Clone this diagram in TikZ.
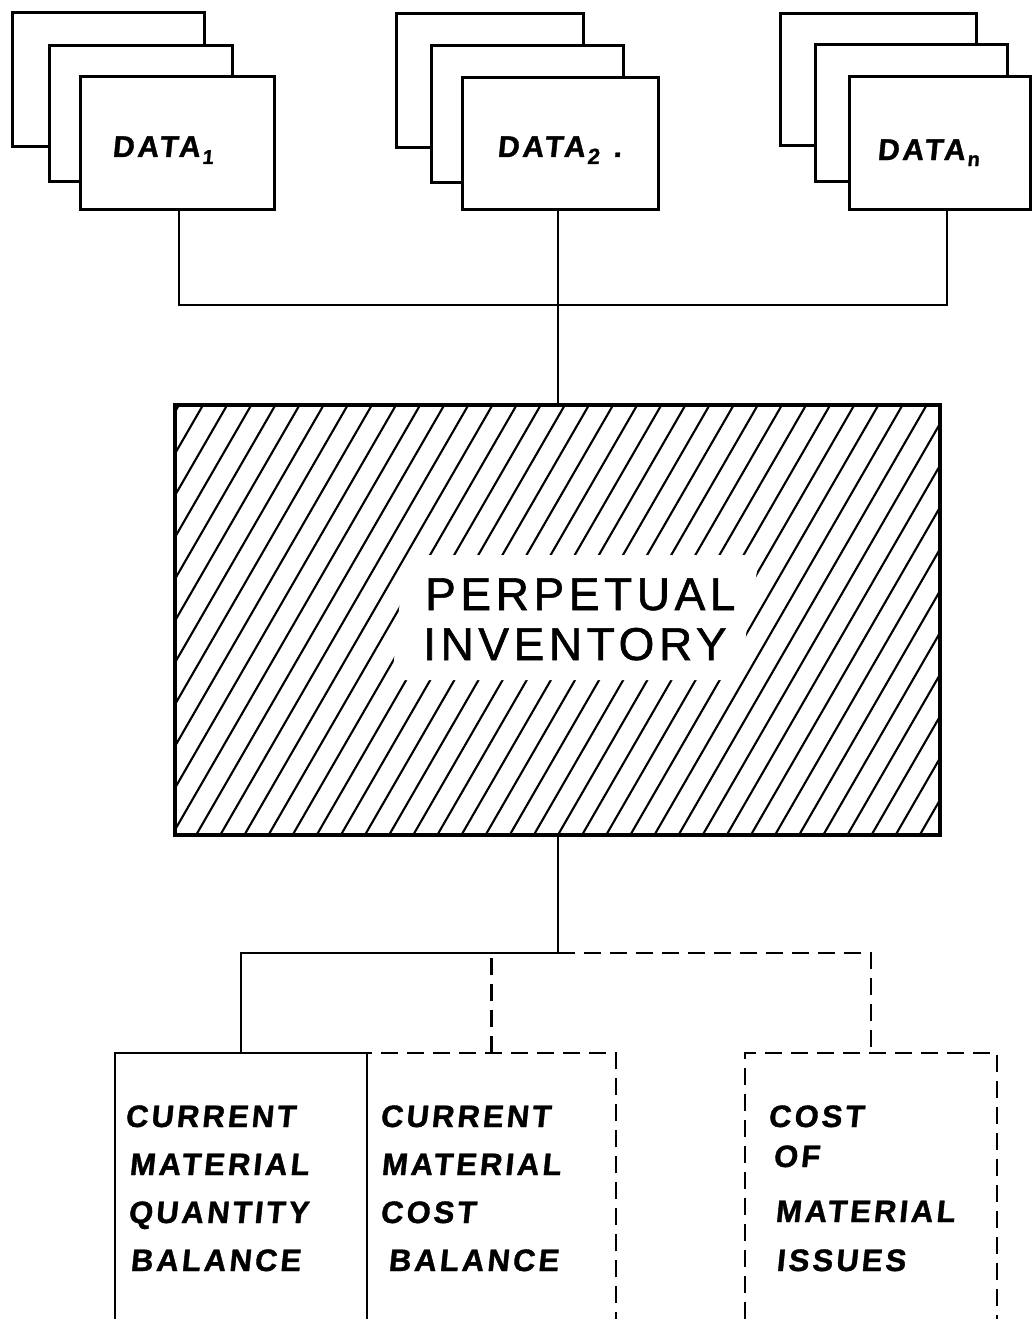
\documentclass[tikz,border=0pt]{standalone}
\usepackage{fontspec}
\newfontfamily\lettr[LetterSpace=10,FakeSlant=0.1,FakeBold=1.2]{Liberation Sans Bold}
\newfontfamily\lettrn[LetterSpace=10,FakeBold=1.2]{Liberation Sans}
\begin{document}
\begin{tikzpicture}[x=1pt,y=-1pt,
  card/.style={draw,line width=3pt,fill=white,rectangle,inner sep=0pt,outer sep=0pt},
  wire/.style={line width=2pt},
  dwire/.style={line width=2.4pt,dash pattern=on 17pt off 9pt},
  hatchline/.style={line width=2.1pt},
  outbox/.style={rectangle,inner sep=0pt,outer sep=0pt,line width=2.6pt,minimum height=287pt},
  datalbl/.style={anchor=base west,inner sep=0pt,font=\lettr\fontsize{30}{30}\selectfont},
  boxlbl/.style={anchor=base west,inner sep=0pt,font=\lettr\fontsize{31}{31}\selectfont},
  biglbl/.style={anchor=base west,inner sep=0pt,font=\lettrn\fontsize{46}{46}\selectfont}]
\useasboundingbox (0,0) rectangle (1032,1319);
\clip (0,0) rectangle (1032,1319);
\fill[white] (0,0) rectangle (1032,1319);

% data stacks
\node[card,minimum width=192pt,minimum height=133pt] (d1b) at (108,79.5) {};
\node[card,minimum width=183pt,minimum height=135pt] (d1m) at (140.5,113.5) {};
\node[card,minimum width=194pt,minimum height=132pt] (d1) at (177,143) {};
\node[card,minimum width=187pt,minimum height=133pt] (d2b) at (489.5,80.5) {};
\node[card,minimum width=192pt,minimum height=136pt] (d2m) at (527,114) {};
\node[card,minimum width=196pt,minimum height=131pt] (d2) at (560,143.5) {};
\node[card,minimum width=196pt,minimum height=131pt] (dnb) at (878,79.5) {};
\node[card,minimum width=192pt,minimum height=136pt] (dnm) at (911,113) {};
\node[card,minimum width=181pt,minimum height=132pt] (dn) at (939.5,143) {};

\node[datalbl] (t1) at (112,157) {DATA\hspace{2pt}\raisebox{-7pt}{\fontsize{20}{20}\selectfont 1}};
\node[datalbl] (t2) at (497,157) {DATA\hspace{2pt}\raisebox{-7pt}{\fontsize{22}{22}\selectfont 2}\hspace{14pt}.};
\node[datalbl] (tn) at (877,160) {DATA\hspace{2pt}\raisebox{-6pt}{\fontsize{20}{20}\selectfont n}};

% perpetual inventory box
\node[rectangle,inner sep=0pt,outer sep=0pt,minimum width=765pt,minimum height=430pt] (P) at (557.5,620) {};
\begin{scope}
  \clip (P.north west) rectangle (P.south east);
  \foreach \k in {-8,...,34} {
    \draw[hatchline] ({748-24.12*\k},840) -- ++(251,-435);
  }
\end{scope}
\fill[white] (425,555) -- (760,555) -- (748,620) -- (740,680) -- (392,680) -- (400,600) -- cycle;
\draw[line width=4pt] (P.north west) rectangle (P.south east);
\node[biglbl] (pt1) at (425,610) {PERPETUAL};
\node[biglbl] (pt2) at (423,660) {INVENTORY};

% top connectors
\coordinate (bus) at (557.5,305);
\draw[wire] ([xshift=2pt]d1.south) |- (bus) -| ([xshift=7.5pt]dn.south);
\draw[wire] (P.north) -- (P.north |- d2.south);

% output boxes
\node[outbox,draw,dwire,minimum width=249pt] (b2) at (491.5,1196.5) {};
\node[outbox,draw,minimum width=252pt] (b1) at (241,1196.5) {};
\node[outbox,draw,dwire,minimum width=252pt] (b3) at (871,1196.5) {};

\coordinate (split) at (557.5,953);
\draw[wire] (P.south) -- (split);
\draw[wire] (split) -| (b1.north);
\draw[dwire] (split) -| (b3.north);
\draw[dwire] (b2.north) -- (b2.north |- split);

% output labels
\node[boxlbl] (a1) at (125,1127) {CURRENT};
\node[boxlbl] (a2) at (129,1175) {MATERIAL};
\node[boxlbl] (a3) at (128,1223) {QUANTITY};
\node[boxlbl] (a4) at (130,1271) {BALANCE};
\node[boxlbl] (c1) at (380,1127) {CURRENT};
\node[boxlbl] (c2) at (381,1175) {MATERIAL};
\node[boxlbl] (c3) at (380,1223) {COST};
\node[boxlbl] (c4) at (388,1271) {BALANCE};
\node[boxlbl] (e1) at (768,1127) {COST};
\node[boxlbl] (e2) at (773,1167) {OF};
\node[boxlbl] (e3) at (775,1222) {MATERIAL};
\node[boxlbl] (e4) at (776,1271) {ISSUES};
\end{tikzpicture}
\end{document}
